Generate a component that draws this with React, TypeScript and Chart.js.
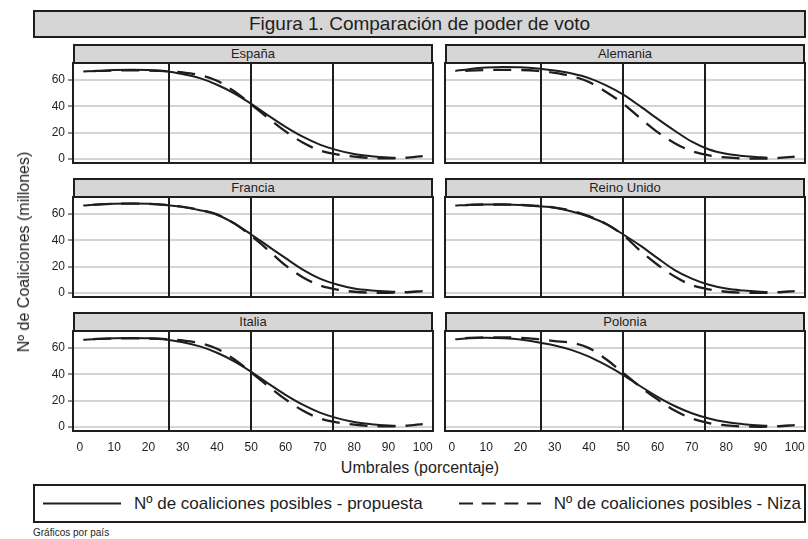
import React, { useEffect, useRef } from "react";
import { Chart, registerables } from "chart.js";

Chart.register(...registerables);

const FONT = "'Liberation Sans', Arial, Helvetica, sans-serif";
Chart.defaults.font.family = FONT;

// ---------- DATA ----------
const titulo = "Figura 1. Comparación de poder de voto";
const tituloY = "Nº de Coaliciones (millones)";
const tituloX = "Umbrales (porcentaje)";
const leyendaPropuesta = "Nº de coaliciones posibles - propuesta";
const leyendaNiza = "Nº de coaliciones posibles - Niza";
const nota = "Gráficos por país";

const paises = ["España", "Alemania", "Francia", "Reino Unido", "Italia", "Polonia"];

const umbralesPropuesta = [1, 5, 10, 15, 20, 25, 30, 35, 40, 45, 50, 55, 60, 65, 70, 75, 80, 85, 90, 92];
const umbralesNiza = [1, 5, 10, 15, 20, 25, 30, 35, 40, 45, 50, 55, 60, 65, 70, 75, 80, 85, 90, 95, 100];

const espanaPropuesta = [66.5, 67, 67.6, 67.8, 67.6, 66.8, 64.6, 61.5, 56.5, 50, 42, 33, 24.5, 17, 11, 6.8, 3.8, 2.2, 1.2, 1.0];
const espanaNiza = [66.5, 67, 67.3, 67.4, 67.3, 66.8, 65.8, 63.8, 59.5, 51.5, 41.5, 31, 21, 12.5, 6.5, 3.5, 1.8, 0.8, 0.5, 1.0, 2.3];

const alemaniaPropuesta = [67, 68.3, 69.5, 70, 69.8, 68.9, 67.3, 65, 61.5, 56, 49, 40, 30.5, 21.5, 13.2, 7.3, 4, 2.3, 1.3, 1.0];
const alemaniaNiza = [66.5, 67.2, 67.7, 67.8, 67.7, 67, 65.5, 63, 58.5, 51, 42, 31, 20.5, 12, 6, 2.8, 1.2, 0.4, 0.3, 0.8, 1.8];

const franciaPropuesta = [66.5, 67.3, 67.8, 68, 67.8, 67, 65.5, 63, 59.5, 53, 44.5, 35.5, 26.5, 17.8, 11, 6.5, 3.5, 2, 1.1, 0.9];
const franciaNiza = [66.5, 67.2, 67.8, 68, 67.8, 67, 65.5, 63.2, 59.8, 53, 43.5, 32.5, 21, 12, 5.8, 2.6, 1, 0.3, 0.2, 0.6, 1.5];

const reinoUnidoPropuesta = [66.5, 67, 67.3, 67.3, 67, 66, 64.8, 62, 58, 52.5, 44.5, 36, 26.5, 17.5, 11, 6.3, 3.4, 1.9, 1.0, 0.8];
const reinoUnidoNiza = [66.5, 67, 67.3, 67.3, 67, 66.3, 65, 62.5, 58.5, 52.5, 44, 32, 21.5, 12.5, 6, 2.8, 1, 0.3, 0.1, 0.6, 1.5];

const italiaPropuesta = [66.3, 67, 67.5, 67.7, 67.5, 66.6, 64.5, 61.3, 56.5, 50, 42, 33, 24.5, 17, 11, 6.8, 3.8, 2.2, 1.2, 1.0];
const italiaNiza = [66.3, 67, 67.3, 67.4, 67.3, 66.8, 65.8, 63.8, 59.5, 51.5, 41.5, 31, 21, 12.5, 6.5, 3.5, 1.8, 0.8, 0.5, 1.0, 2.3];

const poloniaPropuesta = [66.7, 67.5, 67.8, 67.5, 66.5, 64.5, 62, 58.5, 53.5, 47, 39.5, 31, 23, 16, 10.5, 6.5, 3.8, 2.2, 1.1, 0.9];
const poloniaNiza = [67, 67.8, 68.2, 68.2, 67.8, 66.8, 65.3, 64, 60, 51.5, 41, 30.5, 21, 12.5, 6.5, 3, 1.3, 0.4, 0.2, 0.6, 1.5];

const seriesPropuesta = [espanaPropuesta, alemaniaPropuesta, franciaPropuesta, reinoUnidoPropuesta, italiaPropuesta, poloniaPropuesta];
const seriesNiza = [espanaNiza, alemaniaNiza, franciaNiza, reinoUnidoNiza, italiaNiza, poloniaNiza];

const umbralesLineas = [26.1, 50, 73.9];
const ticksX = [0, 10, 20, 30, 40, 50, 60, 70, 80, 90, 100];
const ticksY = [0, 20, 40, 60];

// ---------- LAYOUT ----------
const W = 360;
const H = 100;
const YW = 45;
const XH = 26;
const colLefts = [73, 445];
const rowTops = [63, 197, 331];
const INK = "#1e1e1e";

const panelPlugin = {
  id: "panelDecor",
  beforeDatasetsDraw(chart: any) {
    const { ctx, chartArea, scales } = chart;
    ctx.save();
    ctx.strokeStyle = INK;
    ctx.lineWidth = 2;
    umbralesLineas.forEach((v) => {
      const px = Math.round(scales.x.getPixelForValue(v));
      ctx.beginPath();
      ctx.moveTo(px, chartArea.top);
      ctx.lineTo(px, chartArea.bottom);
      ctx.stroke();
    });
    ctx.restore();
  },
  afterDraw(chart: any) {
    const { ctx, chartArea } = chart;
    ctx.save();
    ctx.strokeStyle = INK;
    ctx.lineWidth = 2;
    ctx.strokeRect(chartArea.left, chartArea.top, chartArea.right - chartArea.left, chartArea.bottom - chartArea.top);
    ctx.restore();
  },
};

function Panel({ idx }: { idx: number }) {
  const ref = useRef<HTMLCanvasElement>(null);
  const col = idx % 2;
  const row = Math.floor(idx / 2);
  const showY = col === 0;
  const showX = row === 2;
  const xh = showX ? XH : 2;
  const left = colLefts[col];
  const top = rowTops[row];

  useEffect(() => {
    const chart = new Chart(ref.current as HTMLCanvasElement, {
      type: "line",
      data: {
        datasets: [
          {
            label: leyendaPropuesta,
            data: umbralesPropuesta.map((x, i) => ({ x, y: seriesPropuesta[idx][i] })),
            borderColor: INK,
            borderWidth: 2,
            pointRadius: 0,
            cubicInterpolationMode: "monotone",
            fill: false,
          },
          {
            label: leyendaNiza,
            data: umbralesNiza.map((x, i) => ({ x, y: seriesNiza[idx][i] })),
            borderColor: INK,
            borderWidth: 2.3,
            borderDash: [18, 10],
            borderDashOffset: 18,
            pointRadius: 0,
            cubicInterpolationMode: "monotone",
            fill: false,
          },
        ],
      },
      options: {
        animation: false,
        responsive: false,
        events: [],
        layout: { autoPadding: false, padding: { left: 0, right: 2, top: 2, bottom: 0 } },
        plugins: { legend: { display: false }, tooltip: { enabled: false } },
        scales: {
          x: {
            type: "linear",
            min: -2,
            max: 103,
            afterBuildTicks: (s: any) => {
              s.ticks = ticksX.map((v) => ({ value: v }));
            },
            afterFit: (s: any) => {
              s.height = xh;
              s.paddingLeft = 0;
              s.paddingRight = 0;
              s.paddingTop = 0;
              s.paddingBottom = 0;
            },
            grid: { display: false },
            border: { display: false },
            ticks: {
              display: showX,
              color: INK,
              font: { size: 12, family: FONT },
              padding: 1,
              maxRotation: 0,
              autoSkip: false,
            },
          },
          y: {
            type: "linear",
            min: -3,
            max: 73,
            afterBuildTicks: (s: any) => {
              s.ticks = ticksY.map((v) => ({ value: v }));
            },
            afterFit: (s: any) => {
              s.width = YW;
              s.paddingLeft = 0;
              s.paddingRight = 0;
              s.paddingTop = 0;
              s.paddingBottom = 0;
            },
            grid: {
              color: "#d4d4d4",
              lineWidth: 2,
              drawTicks: showY,
              tickColor: INK,
              tickLength: 5,
              tickWidth: 1,
            },
            border: { display: false },
            ticks: {
              display: showY,
              color: INK,
              font: { size: 12, family: FONT },
              padding: 3,
            },
          },
        },
      } as any,
      plugins: [panelPlugin],
    });
    return () => chart.destroy();
  }, []);

  return (
    <>
      <div
        style={{
          position: "absolute",
          left,
          top: top - 19,
          width: W,
          height: 20,
          boxSizing: "border-box",
          border: `2px solid ${INK}`,
          background: "#d6d6d6",
          textAlign: "center",
          fontSize: 13,
          lineHeight: "16px",
          color: INK,
        }}
      >
        {paises[idx]}
      </div>
      <canvas
        ref={ref}
        width={YW + W + 2}
        height={2 + H + xh}
        style={{ position: "absolute", left: left - YW, top: top - 2, width: YW + W + 2, height: 2 + H + xh }}
      />
    </>
  );
}

export default function App() {
  return (
    <div
      style={{
        position: "fixed",
        left: 0,
        top: 0,
        width: 808,
        height: 539,
        background: "#ffffff",
        fontFamily: FONT,
        color: INK,
        overflow: "hidden",
      }}
    >
      <div
        style={{
          position: "absolute",
          left: 33,
          top: 10,
          width: 773,
          height: 28,
          boxSizing: "border-box",
          border: `2px solid ${INK}`,
          background: "#d6d6d6",
          textAlign: "center",
          fontSize: 19,
          lineHeight: "24px",
        }}
      >
        {titulo}
      </div>

      {paises.map((_, i) => (
        <Panel key={i} idx={i} />
      ))}

      <div
        style={{
          position: "absolute",
          left: 24,
          top: 252,
          transform: "translate(-50%, -50%) rotate(-90deg)",
          whiteSpace: "nowrap",
          fontSize: 16,
          lineHeight: "18px",
        }}
      >
        {tituloY}
      </div>

      <div
        style={{
          position: "absolute",
          left: 420,
          top: 459,
          transform: "translateX(-50%)",
          whiteSpace: "nowrap",
          fontSize: 16,
          lineHeight: "18px",
        }}
      >
        {tituloX}
      </div>

      <div
        style={{
          position: "absolute",
          left: 33,
          top: 484,
          width: 773,
          height: 39,
          boxSizing: "border-box",
          border: `2px solid ${INK}`,
          background: "#ffffff",
        }}
      />
      <svg style={{ position: "absolute", left: 0, top: 484, width: 808, height: 39 }}>
        <line x1={43} y1={19.5} x2={121} y2={19.5} stroke={INK} strokeWidth={2} />
        <line x1={459} y1={19.5} x2={541} y2={19.5} stroke={INK} strokeWidth={2} strokeDasharray="14 8.7" />
      </svg>
      <div style={{ position: "absolute", left: 134, top: 494, fontSize: 17, lineHeight: "19px", whiteSpace: "nowrap" }}>
        {leyendaPropuesta}
      </div>
      <div style={{ position: "absolute", right: 808 - 801, top: 494, fontSize: 17, lineHeight: "19px", whiteSpace: "nowrap" }}>
        {leyendaNiza}
      </div>

      <div style={{ position: "absolute", left: 33, top: 527, fontSize: 10, lineHeight: "12px", whiteSpace: "nowrap" }}>
        {nota}
      </div>
    </div>
  );
}
